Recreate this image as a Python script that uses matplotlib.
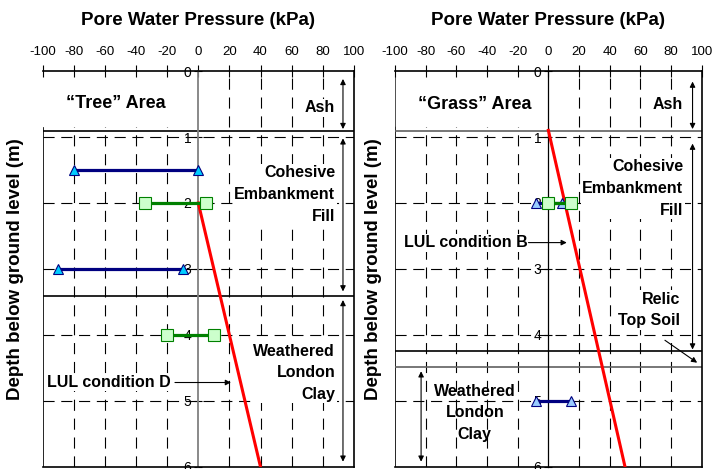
import numpy as np
import matplotlib.pyplot as plt

plt.rcParams['font.family'] = ['Liberation Sans', 'DejaVu Sans']
plt.rcParams['axes.unicode_minus'] = False

# x ticks (kPa) and depth ticks (m)
x_ticks = [-100, -80, -60, -40, -20, 0, 20, 40, 60, 80, 100]
depth_ticks = [0, 1, 2, 3, 4, 5, 6]

# "Tree" area measurements (depth, min, max)
tree_blue_depth = [1.5, 3.0]
tree_blue_min = [-80, -90]
tree_blue_max = [0, -10]
tree_green_depth = [2.0, 4.0]
tree_green_min = [-34, -20]
tree_green_max = [5, 10]
tree_lul_depth = [2.0, 6.0]
tree_lul_pwp = [0, 40]
tree_layers = [0.91, 3.41]

# "Grass" area measurements
grass_blue_depth = [2.0, 5.0]
grass_blue_min = [-8, -8]
grass_blue_max = [9, 15]
grass_green_depth = [2.0]
grass_green_min = [0]
grass_green_max = [15]
grass_lul_depth = [0.9, 6.0]
grass_lul_pwp = [0, 50]
grass_layers = [0.91, 4.25, 4.49]

fig = plt.figure(figsize=(7.12, 4.69), dpi=100)
ax1 = fig.add_axes([0.060, 0.0043, 0.437, 0.8443])
ax2 = fig.add_axes([0.5548, 0.0043, 0.4308, 0.8443])

bold = dict(fontsize=11.5, fontweight='bold')
white = dict(facecolor='white', edgecolor='none', pad=1)


def setup(ax, axis_col, layer_cols, layers):
    ax.set_xlim(-100, 100)
    ax.set_ylim(6, 0)
    ax.xaxis.tick_top()
    ax.set_xticks(x_ticks)
    ax.set_yticks(depth_ticks)
    ax.tick_params(axis='x', direction='inout', length=9, labelsize=9.5, pad=5)
    ax.tick_params(axis='y', direction='inout', length=6, labelsize=10, pad=2)
    ax.spines['left'].set_position(('data', 0))
    ax.spines['left'].set_color(axis_col)
    ax.spines['left'].set_linewidth(1.3 if axis_col != 'black' else 0.9)
    for s in ['top', 'bottom', 'right']:
        ax.spines[s].set_linewidth(1.2)
    ax.axvline(-100, color='black', lw=1.2, zorder=1)
    for xv in x_ticks[1:-1]:
        if xv != 0:
            ax.axvline(xv, color='black', lw=0.8, dashes=(10, 7), zorder=0)
    for d in depth_ticks[1:-1]:
        ax.axhline(d, color='black', lw=0.8, dashes=(10, 6), zorder=0)
    for d, c in zip(layers, layer_cols):
        ax.axhline(d, color=c, lw=1.2, zorder=1)
    ax.set_xlabel('Pore Water Pressure (kPa)', fontsize=13.5, fontweight='bold', labelpad=15)
    ax.xaxis.set_label_position('top')
    # white box covering the grid behind the area label
    ax.fill_between([-99.5, -1], 0.03, 0.84, color='white', zorder=1)


def ranges(ax, depth, lo, hi, lc, mfc, mec, marker, ms):
    for d, a, b in zip(depth, lo, hi):
        ax.plot([a, b], [d, d], color=lc, lw=2.3, marker=marker, ms=ms,
                mfc=mfc, mec=mec, mew=0.8, zorder=4)


def darrow(ax, x, d0, d1):
    ax.annotate('', xy=(x, d1), xytext=(x, d0),
                arrowprops=dict(arrowstyle='<|-|>', color='black', lw=0.8,
                                mutation_scale=8, shrinkA=0, shrinkB=0), zorder=5)


# ---- left panel: Tree area
setup(ax1, '#808080', ['black', 'black'], tree_layers)
ranges(ax1, tree_blue_depth, tree_blue_min, tree_blue_max, '#000080', '#00ccff', '#000080', '^', 7)
ranges(ax1, tree_green_depth, tree_green_min, tree_green_max, '#008000', '#ccffcc', '#008000', 's', 8)
ax1.plot(tree_lul_pwp, tree_lul_depth, color='red', lw=2.2, zorder=3)

ax1.text(-53, 0.49, '\u201cTree\u201d Area', ha='center', va='center', fontsize=13, fontweight='bold', zorder=6)
ax1.text(88, 0.56, 'Ash', ha='right', va='center', bbox=white, zorder=6, **bold)
ax1.text(88, 1.87, 'Cohesive\nEmbankment\nFill', ha='right', va='center', linespacing=1.55,
         bbox=white, zorder=6, **bold)
ax1.text(88, 4.57, 'Weathered\nLondon\nClay', ha='right', va='center', linespacing=1.55,
         bbox=white, zorder=6, **bold)
ax1.text(-97, 4.72, 'LUL condition D', ha='left', va='center', bbox=white, zorder=6, **bold)
ax1.annotate('', xy=(21, 4.72), xytext=(-15, 4.72),
             arrowprops=dict(arrowstyle='-|>', color='black', lw=0.8, mutation_scale=8,
                             shrinkA=0, shrinkB=0), zorder=6)
darrow(ax1, 93, 0.12, 0.88)
darrow(ax1, 93, 1.02, 3.34)
darrow(ax1, 93, 3.47, 5.92)
ax1.set_ylabel('Depth below ground level (m)', fontsize=13.5, fontweight='bold')
ax1.yaxis.set_label_coords(-0.06, 0.5)

# ---- right panel: Grass area
setup(ax2, 'black', ['#606060', 'black', '#606060'], grass_layers)
ranges(ax2, grass_blue_depth, grass_blue_min, grass_blue_max, '#000080', '#99ccff', '#000080', '^', 7)
ranges(ax2, grass_green_depth, grass_green_min, grass_green_max, '#008000', '#ccffcc', '#008000', 's', 8)
ax2.plot(grass_lul_pwp, grass_lul_depth, color='red', lw=2.2, zorder=3)

ax2.text(-48, 0.5, '\u201cGrass\u201d Area', ha='center', va='center', fontsize=13, fontweight='bold', zorder=6)
ax2.text(88, 0.5, 'Ash', ha='right', va='center', bbox=white, zorder=6, **bold)
ax2.text(88, 1.78, 'Cohesive\nEmbankment\nFill', ha='right', va='center', linespacing=1.55,
         bbox=white, zorder=6, **bold)
ax2.text(86, 3.62, 'Relic\nTop Soil', ha='right', va='center', linespacing=1.55,
         multialignment='right', bbox=white, zorder=6, **bold)
ax2.text(-48, 5.18, 'Weathered\nLondon\nClay', ha='center', va='center', linespacing=1.55, zorder=6, **bold)
ax2.text(-94, 2.6, 'LUL condition B', ha='left', va='center', bbox=white, zorder=6, **bold)
ax2.annotate('', xy=(12, 2.6), xytext=(-13, 2.6),
             arrowprops=dict(arrowstyle='-|>', color='black', lw=0.8, mutation_scale=8,
                             shrinkA=0, shrinkB=0), zorder=6)
ax2.annotate('', xy=(97, 4.42), xytext=(76, 4.08),
             arrowprops=dict(arrowstyle='-|>', color='black', lw=0.8, mutation_scale=8,
                             shrinkA=0, shrinkB=0), zorder=6)
darrow(ax2, 94, 0.16, 0.88)
darrow(ax2, 94, 1.1, 4.22)
darrow(ax2, -83, 4.55, 5.92)
ax2.set_ylabel('Depth below ground level (m)', fontsize=13.5, fontweight='bold')
ax2.yaxis.set_label_coords(-0.042, 0.5)

fig.savefig('out.png', dpi=100)
